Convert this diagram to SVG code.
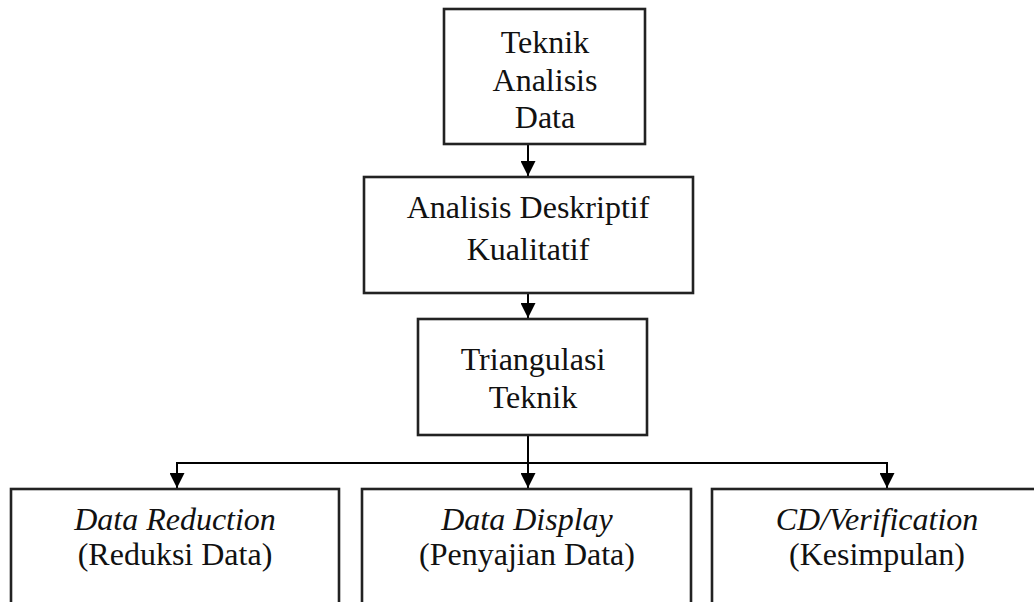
<svg xmlns="http://www.w3.org/2000/svg" width="1034" height="602" viewBox="0 0 1034 602">
<style>
.box{fill:#fff;stroke:#222;stroke-width:2.6}
.t{font-family:"Liberation Serif","Times New Roman",serif;font-size:32px;fill:#111;text-anchor:middle}
.i{font-style:italic}
.c{fill:none;stroke:#000;stroke-width:2}
</style>
<defs>
<marker id="ah" markerUnits="userSpaceOnUse" markerWidth="15" markerHeight="15" refX="15" refY="7.5" orient="auto">
<path d="M0,0 L15,7.5 L0,15 z" fill="#000"/>
</marker>
</defs>
<rect width="1034" height="602" fill="#fff"/>
<g id="connectors">
<line class="c" x1="528" y1="145" x2="528" y2="176" marker-end="url(#ah)"/>
<line class="c" x1="528" y1="294" x2="528" y2="318" marker-end="url(#ah)"/>
<line class="c" x1="528" y1="436" x2="528" y2="488" marker-end="url(#ah)"/>
<polyline class="c" points="177,470 177,463 887,463 887,470"/>
<line class="c" x1="177" y1="463" x2="177" y2="488" marker-end="url(#ah)"/>
<line class="c" x1="887" y1="463" x2="887" y2="488" marker-end="url(#ah)"/>
</g>
<g id="teknik-analisis-data">
<rect class="box" x="444" y="9" width="201" height="135"/>
<text class="t" x="545" y="53">Teknik</text>
<text class="t" x="545" y="91">Analisis</text>
<text class="t" x="545" y="128">Data</text>
</g>
<g id="analisis-deskriptif">
<rect class="box" x="364" y="177" width="329" height="116"/>
<text class="t" x="528" y="218">Analisis Deskriptif</text>
<text class="t" x="528" y="260">Kualitatif</text>
</g>
<g id="triangulasi">
<rect class="box" x="418" y="319" width="229" height="116"/>
<text class="t" x="533" y="370">Triangulasi</text>
<text class="t" x="533" y="408">Teknik</text>
</g>
<g id="data-reduction">
<rect class="box" x="11" y="489" width="328" height="140"/>
<text class="t i" x="175" y="530">Data Reduction</text>
<text class="t" x="175" y="565">(Reduksi Data)</text>
</g>
<g id="data-display">
<rect class="box" x="362" y="489" width="329" height="140"/>
<text class="t i" x="527" y="530">Data Display</text>
<text class="t" x="527" y="565">(Penyajian Data)</text>
</g>
<g id="cd-verification">
<rect class="box" x="712" y="489" width="340" height="140"/>
<text class="t i" x="877" y="530">CD/Verification</text>
<text class="t" x="877" y="565">(Kesimpulan)</text>
</g>
</svg>
